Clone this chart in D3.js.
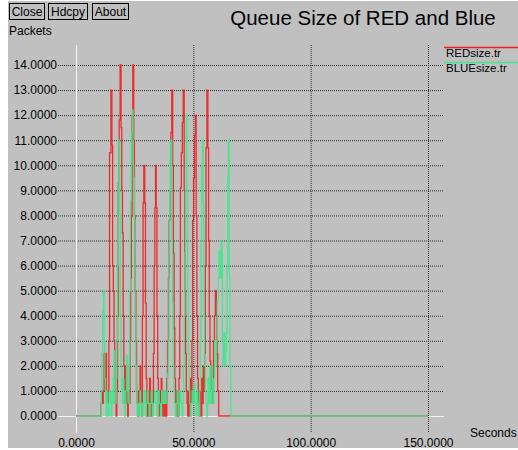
<!DOCTYPE html>
<html>
<head>
<meta charset="utf-8">
<script src="https://cdn.jsdelivr.net/npm/d3@7/dist/d3.min.js"></script>
<style>
  html, body { margin: 0; padding: 0; background: #ffffff; }
  svg { display: block; font-family: "Liberation Sans", Arial, Helvetica, sans-serif; }
</style>
</head>
<body>
<svg id="chart" width="518" height="450"></svg>
<script>
// Queue occupancy traces (seconds, packets)
const redTime = [0, 10.3, 10.7, 11.0, 11.3, 11.6, 12.0, 12.4, 12.7, 13.0, 13.3, 13.7, 14.0, 14.3, 14.9, 15.3, 15.6, 15.9, 16.2, 16.5, 16.8, 17.1, 17.4, 17.7, 18.0, 18.4, 18.8, 19.2, 19.5, 19.8, 20.1, 20.4, 20.7, 21.0, 21.3, 21.6, 22.0, 22.3, 22.6, 23.0, 23.3, 23.6, 23.9, 24.2, 24.6, 24.9, 25.2, 25.5, 25.8, 26.1, 26.4, 26.7, 27.0, 27.3, 27.6, 28.0, 28.3, 28.6, 28.9, 29.3, 29.6, 29.9, 30.2, 30.5, 30.8, 31.1, 31.4, 31.7, 32.0, 32.3, 32.6, 33.0, 33.3, 33.6, 33.9, 34.2, 34.5, 34.8, 35.1, 35.4, 35.7, 36.0, 36.3, 36.6, 36.9, 37.2, 37.5, 37.8, 38.1, 38.4, 38.7, 39.0, 39.4, 39.7, 40.0, 40.4, 40.8, 41.2, 41.5, 41.8, 42.1, 42.4, 42.7, 43.0, 43.3, 43.6, 43.9, 44.2, 44.5, 44.9, 45.3, 45.7, 46.1, 46.4, 46.7, 47.0, 47.3, 47.6, 47.9, 48.2, 48.5, 48.8, 49.1, 49.4, 49.7, 50.1, 50.5, 50.9, 51.2, 51.5, 51.8, 52.1, 52.4, 52.7, 53.0, 53.3, 53.6, 53.9, 54.2, 54.5, 54.8, 55.1, 55.4, 55.8, 56.2, 56.5, 56.8, 57.1, 57.4, 57.7, 58.0, 58.3, 58.6, 59.0, 59.4, 59.8, 60.1, 60.4, 60.8, 150];
const redSize = [0, 0, 0.5, 1, 0.5, 1, 2.5, 1.5, 2.5, 1, 0.5, 1, 3, 10.5, 13, 10.8, 6, 5, 3, 1.5, 0.5, 0, 1, 4, 9.3, 11.8, 14, 11.5, 9, 7.3, 4, 2, 0.5, 1, 2, 0.5, 0, 1, 0.5, 3, 5.5, 8, 12, 14, 11, 8, 5, 3, 1, 0.5, 0, 1, 0.5, 2, 1, 0, 4, 8.5, 10, 8.5, 4.5, 1.5, 0, 1, 0.5, 0, 1.5, 0.5, 0, 1, 0.5, 2.5, 6, 8.3, 10, 8.3, 4, 1.5, 0.5, 0, 1, 0.5, 1.5, 0.5, 0, 0.5, 1, 0, 0.5, 0, 1.5, 3, 5.5, 7.8, 9, 11.3, 13, 10, 6.5, 3.5, 1.5, 0.5, 1, 0, 0.5, 0, 1.5, 4, 9.1, 10.5, 11.7, 13, 9, 5, 2.5, 1, 0.5, 0, 1, 0.5, 0, 1.5, 0.5, 3, 7.8, 9.5, 11.2, 12, 8, 4, 1.5, 0.5, 0, 1, 0.5, 0, 1.5, 0.5, 2, 1, 2.5, 6, 10.7, 13, 10.7, 7, 4, 2.2, 1, 2, 0.5, 1.5, 3, 4, 5, 4, 2.5, 1, 0, 0];

const blueTime = [0, 10.5, 10.8, 11.1, 11.4, 11.7, 12.0, 12.3, 12.6, 12.9, 13.2, 13.5, 13.8, 14.1, 14.4, 14.7, 15.0, 15.3, 15.6, 15.9, 16.2, 16.5, 16.8, 17.1, 17.4, 17.7, 18.0, 18.3, 18.6, 18.9, 19.2, 19.5, 19.8, 20.1, 20.4, 20.7, 21.0, 21.3, 21.6, 22.0, 22.3, 22.6, 22.9, 23.2, 23.6, 24.0, 24.3, 24.6, 24.9, 25.2, 25.5, 25.8, 26.1, 26.4, 26.8, 27.2, 27.6, 28.0, 28.5, 29.0, 29.5, 30.0, 30.4, 30.8, 31.2, 31.6, 32.0, 32.5, 33.0, 33.5, 34.0, 34.5, 35.0, 35.5, 36.0, 36.5, 37.0, 37.5, 38.0, 38.4, 38.7, 39.0, 39.3, 39.6, 39.9, 40.2, 40.5, 40.8, 41.1, 41.4, 41.7, 42.0, 42.3, 42.7, 43.1, 43.5, 43.9, 44.3, 44.7, 45.1, 45.5, 45.8, 46.1, 46.4, 46.7, 47.0, 47.3, 47.6, 47.9, 48.2, 48.5, 48.8, 49.1, 49.5, 49.9, 50.3, 50.7, 51.1, 51.5, 51.9, 52.3, 52.7, 53.0, 53.3, 53.6, 53.9, 54.2, 54.5, 54.8, 55.1, 55.4, 55.7, 56.0, 56.3, 56.6, 57.0, 57.3, 57.6, 57.9, 58.2, 58.5, 58.8, 59.1, 59.4, 59.8, 60.2, 60.6, 61.0, 61.4, 61.8, 62.1, 62.4, 62.7, 63.0, 63.4, 63.8, 64.1, 64.4, 64.7, 65.0, 65.3, 65.6, 66.0, 150];
const blueSize = [0, 0, 1, 2.5, 4.2, 5, 3, 1.5, 0.5, 0, 1, 0.5, 0, 0.5, 1, 0.5, 0, 1, 0.5, 1.5, 2.6, 1, 0.5, 1.5, 3, 6, 9.3, 11, 8, 4, 2, 1, 0.5, 1.5, 1, 0, 0.5, 1, 2.4, 1, 0.5, 2, 5, 8.6, 11.3, 12.2, 10, 9.5, 7.8, 4, 2, 1, 0, 0.5, 0, 1, 0.5, 0, 0.5, 1, 0, 0.5, 1, 0.5, 0, 0.5, 1, 0, 0.5, 1, 0.5, 0, 1, 0.5, 0, 1, 0.5, 1, 0.5, 0.5, 1, 1.7, 3, 6.5, 9, 10.9, 11, 7, 4.5, 2, 1, 0.5, 0, 0.5, 1, 0, 0.5, 1, 0.5, 0, 0.5, 2, 4, 6.5, 9, 12, 9, 5, 2.5, 1, 0.5, 0, 0.5, 1, 0.5, 1.3, 0.5, 0, 1, 0.5, 0, 1, 3, 7, 10, 11, 8.5, 4, 2, 1, 0.5, 0, 0.5, 1.5, 0.5, 2, 1, 0.5, 2, 1, 0.5, 1.5, 3, 2, 3, 4.6, 5.5, 6.6, 5.5, 7, 6.5, 3, 2, 3.3, 2, 2.6, 3.3, 6, 9.5, 11, 5.5, 2, 0, 0];

const yTicks = [0, 1, 2, 3, 4, 5, 6, 7, 8, 9, 10, 11, 12, 13, 14];
const xTicks = [0, 50, 100, 150];
const buttonLabels = ["Close", "Hdcpy", "About"];
const seriesNames = ["REDsize.tr", "BLUEsize.tr"];
const seriesColors = ["#f41c1c", "#3ee88c"];

const svg = d3.select("#chart");

// window panel
svg.append("rect")
  .attr("x", 8).attr("y", 1).attr("width", 510).attr("height", 447)
  .attr("fill", "#c0c0c0");

// toolbar buttons
const btnX = [9, 48, 92];
const btnW = [35, 39, 36];
buttonLabels.forEach((label, i) => {
  svg.append("rect")
    .attr("x", btnX[i] + 0.5).attr("y", 3.5)
    .attr("width", btnW[i]).attr("height", 16)
    .attr("fill", "none").attr("stroke", "#000").attr("stroke-width", 1);
  svg.append("text")
    .attr("x", btnX[i] + btnW[i] / 2 + 0.5).attr("y", 16)
    .attr("text-anchor", "middle")
    .attr("font-size", 12).attr("fill", "#000")
    .text(label);
});

svg.append("text")
  .attr("x", 363).attr("y", 25)
  .attr("text-anchor", "middle")
  .attr("font-size", 20.5).attr("fill", "#000")
  .text("Queue Size of RED and Blue");

svg.append("text")
  .attr("x", 9).attr("y", 35)
  .attr("font-size", 12).attr("fill", "#000")
  .text("Packets");

// scales
const x = d3.scaleLinear().domain([0, 150]).range([76, 428]);
const y = d3.scaleLinear().domain([0, 14]).range([416, 65]);

// y grid + labels
const gridLeft = 58, gridRight = 444;
const yAxis = svg.append("g")
  .attr("transform", `translate(${gridLeft},0)`)
  .call(d3.axisLeft(y)
    .tickValues(yTicks)
    .tickFormat(d3.format(".4f"))
    .tickSize(-(gridRight - gridLeft))
    .tickPadding(1));
yAxis.select(".domain").remove();
yAxis.selectAll(".tick text").attr("font-size", 12).attr("fill", "#000")
  .attr("font-family", "Liberation Sans, Arial, sans-serif");
yAxis.selectAll(".tick line")
  .attr("stroke", d => d === 0 ? "#f4f4f4" : "#2a2a2a")
  .attr("stroke-dasharray", d => d === 0 ? null : "1,1")
  .attr("stroke-width", 1);

// x grid + labels
const gridTop = 45, gridBottom = 433;
const xAxis = svg.append("g")
  .attr("transform", `translate(0,${gridTop})`)
  .call(d3.axisBottom(x)
    .tickValues(xTicks)
    .tickFormat(d3.format(".4f"))
    .tickSize(gridBottom - gridTop)
    .tickPadding(5));
xAxis.select(".domain").remove();
xAxis.selectAll(".tick text").attr("font-size", 12).attr("fill", "#000")
  .attr("font-family", "Liberation Sans, Arial, sans-serif");
xAxis.selectAll(".tick line")
  .attr("stroke", d => d === 0 ? "#f4f4f4" : "#2a2a2a")
  .attr("stroke-dasharray", d => d === 0 ? null : "1,1")
  .attr("stroke-width", 1);

svg.append("text")
  .attr("x", 470).attr("y", 437)
  .attr("font-size", 12).attr("fill", "#000")
  .text("Seconds");

// traces
const line = d3.line()
  .x(d => x(d[0]))
  .y(d => y(d[1]))
  .curve(d3.curveStepAfter);

const redPts = redTime.map((t, i) => [t, redSize[i]]);
const bluePts = blueTime.map((t, i) => [t, blueSize[i]]);

[redPts, bluePts].forEach((pts, i) => {
  svg.append("path")
    .datum(pts)
    .attr("fill", "none")
    .attr("stroke", seriesColors[i])
    .attr("stroke-width", 1.3)
    .attr("stroke-opacity", 0.9)
    .attr("d", line);
});

// legend
const legendY = [47, 62];
seriesNames.forEach((name, i) => {
  svg.append("line")
    .attr("x1", 444).attr("x2", 518)
    .attr("y1", legendY[i] + 0.5).attr("y2", legendY[i] + 0.5)
    .attr("stroke", seriesColors[i]).attr("stroke-width", 1.3);
  svg.append("text")
    .attr("x", 446).attr("y", legendY[i] + 10)
    .attr("font-size", 11.5).attr("fill", "#000")
    .text(name);
});
</script>
</body>
</html>
